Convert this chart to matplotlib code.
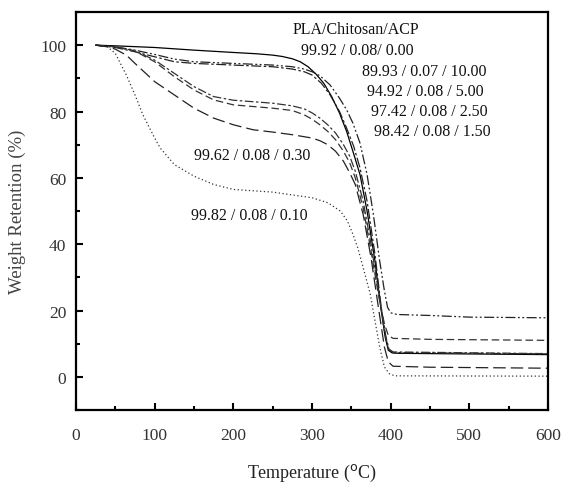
import matplotlib
matplotlib.use("Agg")
import matplotlib.pyplot as plt
from matplotlib.ticker import MultipleLocator

plt.rcParams['font.family'] = ['Liberation Serif', 'DejaVu Serif']

# ---- data ----
T_a = [25, 50, 100, 150, 200, 230, 250, 262, 275, 285, 295, 305, 315, 325, 335, 344, 352, 361, 370, 380, 388, 393, 397, 402, 410, 450, 500, 550, 600]
W_a = [100, 99.8, 99.3, 98.5, 97.8, 97.4, 97.0, 96.6, 95.9, 95.0, 93.5, 91.3, 88.5, 84.5, 79.5, 74.0, 68.0, 61.0, 50.0, 35.0, 20.0, 12.0, 8.0, 7.2, 7.1, 7.0, 6.9, 6.8, 6.7]

T_b = [25, 50, 75, 100, 125, 150, 200, 250, 275, 290, 300, 310, 323, 335, 344, 352, 361, 370, 378, 386, 392, 396, 400, 408, 450, 500, 600]
W_b = [100, 99.5, 98.5, 97.2, 95.8, 95.0, 94.5, 94.0, 93.5, 92.8, 92.0, 90.8, 88.0, 84.0, 80.5, 76.5, 70.5, 61.0, 49.0, 35.0, 26.0, 21.0, 19.3, 18.8, 18.5, 18.0, 17.8]

T_c = [25, 50, 75, 100, 125, 150, 200, 250, 275, 290, 300, 312, 323, 335, 344, 353, 361, 370, 380, 388, 394, 398, 404, 600]
W_c = [100, 99.3, 98.0, 96.5, 95.0, 94.5, 94.0, 93.5, 92.8, 92.0, 91.0, 88.5, 85.0, 80.0, 75.0, 69.5, 63.0, 53.0, 37.0, 21.0, 12.0, 8.2, 7.3, 6.9]

T_d = [25, 50, 75, 100, 125, 150, 175, 200, 250, 275, 290, 300, 310, 320, 330, 340, 348, 355, 365, 375, 385, 392, 397, 403, 600]
W_d = [100, 99.5, 98.3, 95.5, 91.5, 87.5, 84.5, 83.4, 82.5, 81.7, 80.8, 79.6, 78.0, 76.0, 73.5, 70.0, 66.5, 62.0, 53.0, 40.0, 25.0, 14.0, 8.5, 7.5, 7.0]

T_e = [25, 50, 75, 100, 125, 150, 175, 200, 250, 275, 290, 300, 310, 320, 330, 340, 348, 355, 365, 375, 385, 392, 397, 403, 450, 600]
W_e = [100, 99.5, 98.2, 95.0, 90.5, 86.5, 83.5, 82.0, 81.0, 80.3, 79.0, 77.7, 76.0, 74.0, 71.5, 68.0, 64.5, 60.0, 51.0, 38.0, 24.0, 16.0, 12.5, 11.6, 11.3, 11.0]

T_f = [25, 40, 50, 64, 75, 100, 125, 150, 175, 200, 225, 250, 275, 300, 310, 320, 330, 340, 348, 355, 365, 375, 385, 392, 397, 403, 450, 600]
W_f = [100, 99.5, 98.8, 97.0, 94.5, 89.0, 85.0, 81.0, 78.0, 76.0, 74.5, 73.8, 73.0, 72.0, 71.2, 70.0, 68.0, 65.0, 61.5, 58.0, 49.0, 36.0, 20.0, 9.0, 4.5, 3.2, 2.9, 2.6]

T_g = [25, 40, 50, 64, 75, 85, 100, 107, 125, 150, 175, 200, 250, 300, 320, 336, 345, 352, 358, 365, 374, 380, 386, 392, 398, 405, 600]
W_g = [100, 99.5, 97.5, 91.0, 85.0, 79.0, 72.0, 69.0, 64.0, 60.5, 58.0, 56.5, 55.7, 54.0, 52.5, 50.0, 47.0, 43.0, 39.0, 33.0, 25.0, 17.0, 9.0, 3.0, 1.0, 0.3, 0.2]

labels = ["99.92 / 0.08/ 0.00", "89.93 / 0.07 / 10.00", "94.92 / 0.08 / 5.00",
          "97.42 / 0.08 / 2.50", "98.42 / 0.08 / 1.50", "99.62 / 0.08 / 0.30",
          "99.82 / 0.08 / 0.10"]
label_T = [357, 443, 444, 449, 453, 224, 220]
label_W = [98.6, 92.3, 86.2, 80.2, 74.1, 66.8, 48.8]

series = [(T_a, W_a), (T_b, W_b), (T_c, W_c), (T_d, W_d), (T_e, W_e), (T_f, W_f), (T_g, W_g)]
styles = ['-', (0, (8, 2, 1.5, 2, 1.5, 2)), (0, (8, 2, 2, 2)), (0, (7, 2, 2, 2)),
          (0, (6, 3)), (0, (10, 4)), (0, (1, 2))]
colors = ['#000000', '#222222', '#222222', '#333333', '#333333', '#222222', '#333333']

fig = plt.figure(figsize=(5.61, 4.85), dpi=100)
ax = fig.add_axes([76/561, 1-411/485, (548-76)/561, (411-13)/485])

for (t, w), ls, c in zip(series, styles, colors):
    ax.plot(t, w, linestyle=ls, color=c, lw=0.9)

ax.set_xlim(0, 600)
ax.set_ylim(-10, 110)
ax.xaxis.set_major_locator(MultipleLocator(100))
ax.xaxis.set_minor_locator(MultipleLocator(50))
ax.yaxis.set_minor_locator(MultipleLocator(10))
ax.set_yticks([0, 20, 40, 60, 80, 100])
ax.tick_params(which='both', direction='in', top=False, right=False, width=1.5, colors='black')
ax.tick_params(which='major', length=5, labelsize=12.5, labelcolor='#333333')
ax.tick_params(which='minor', length=3)
ax.tick_params(axis='x', pad=12)
ax.tick_params(axis='y', pad=7)
for s in ax.spines.values():
    s.set_linewidth(1.6)

ax.set_xlabel('Temperature ($^{\\mathrm{o}}$C)', fontsize=13, color='#222222', labelpad=14)
ax.set_ylabel('Weight Retention (%)', fontsize=13.5, color='#444444', labelpad=10)

ax.text(356, 105, 'PLA/Chitosan/ACP', fontsize=11.5, ha='center', va='center', color='#111111')
for txt, x, y in zip(labels, label_T, label_W):
    ax.text(x, y, txt, fontsize=11.5, ha='center', va='center', color='#111111')

fig.savefig('out.png', dpi=100)
